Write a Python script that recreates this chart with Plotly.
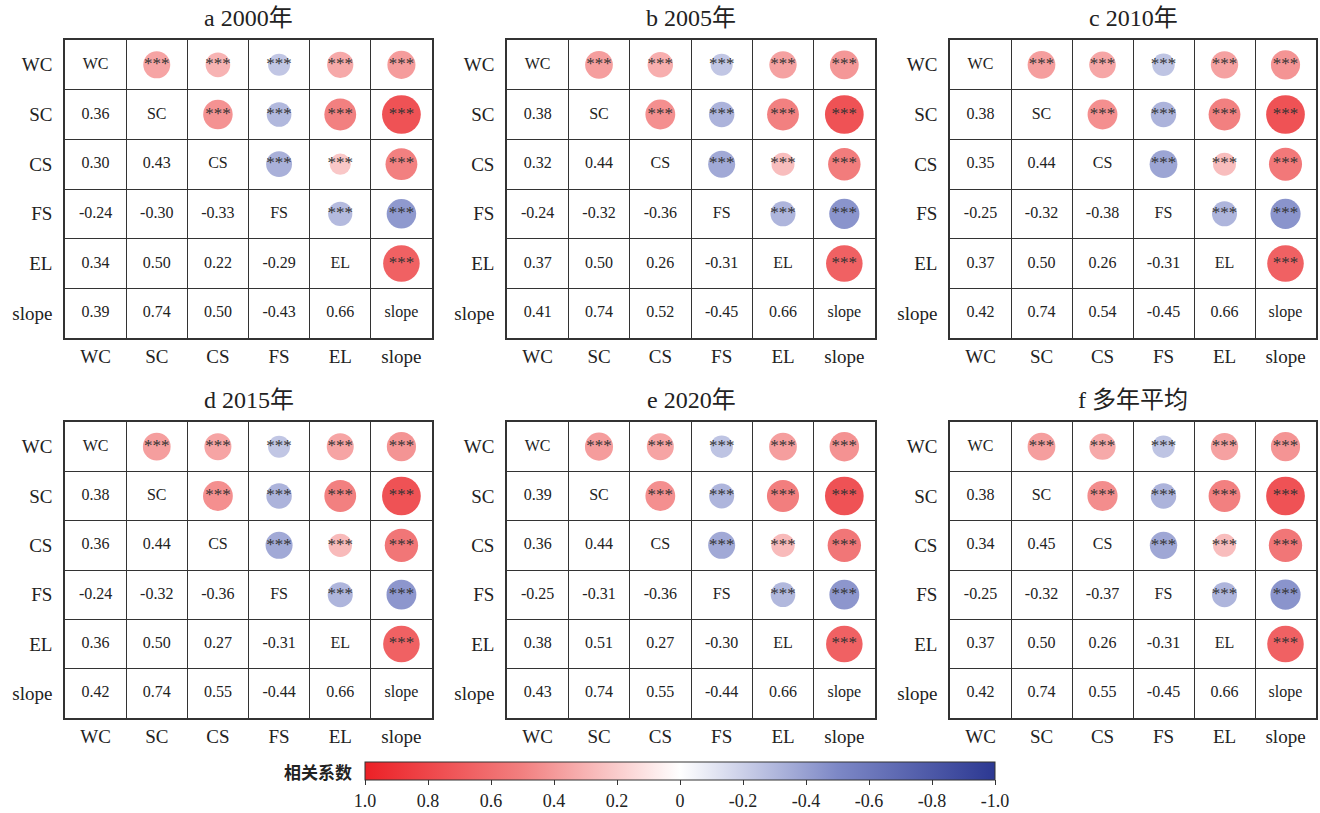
import math
import plotly.graph_objects as go

variables = ["WC", "SC", "CS", "FS", "EL", "slope"]
panel_titles = ["a\u00a02000年", "b\u00a02005年", "c\u00a02010年", "d\u00a02015年", "e\u00a02020年", "f\u00a0多年平均"]

# lower-triangle correlation coefficients (row i, columns 0..i-1)
r_2000 = [[0.36], [0.30, 0.43], [-0.24, -0.30, -0.33], [0.34, 0.50, 0.22, -0.29], [0.39, 0.74, 0.50, -0.43, 0.66]]
r_2005 = [[0.38], [0.32, 0.44], [-0.24, -0.32, -0.36], [0.37, 0.50, 0.26, -0.31], [0.41, 0.74, 0.52, -0.45, 0.66]]
r_2010 = [[0.38], [0.35, 0.44], [-0.25, -0.32, -0.38], [0.37, 0.50, 0.26, -0.31], [0.42, 0.74, 0.54, -0.45, 0.66]]
r_2015 = [[0.38], [0.36, 0.44], [-0.24, -0.32, -0.36], [0.36, 0.50, 0.27, -0.31], [0.42, 0.74, 0.55, -0.44, 0.66]]
r_2020 = [[0.39], [0.36, 0.44], [-0.25, -0.31, -0.36], [0.38, 0.51, 0.27, -0.30], [0.43, 0.74, 0.55, -0.44, 0.66]]
r_mean = [[0.38], [0.34, 0.45], [-0.25, -0.32, -0.37], [0.37, 0.50, 0.26, -0.31], [0.42, 0.74, 0.55, -0.45, 0.66]]
panels = [r_2000, r_2005, r_2010, r_2015, r_2020, r_mean]
sig_label = "***"

cbar_tickvals = [1.0, 0.8, 0.6, 0.4, 0.2, 0.0, -0.2, -0.4, -0.6, -0.8, -1.0]
cbar_ticktext = ["1.0", "0.8", "0.6", "0.4", "0.2", "0", "-0.2", "-0.4", "-0.6", "-0.8", "-1.0"]
cbar_title = "相关系数"

W, H = 1320, 813
x_px = [(65, 432), (507, 875), (950, 1316)]
y_px = [(40, 338), (422, 718)]
title_y_px = [18, 400]

SERIF = "Liberation Serif, Times New Roman, Noto Sans CJK SC, serif"
colorscale = [
    [0.0, "rgb(236,32,38)"],
    [0.25, "rgb(242,128,128)"],
    [0.5, "rgb(255,255,255)"],
    [0.75, "rgb(125,136,198)"],
    [1.0, "rgb(44,56,146)"],
]

fig = go.Figure()
layout = {}
annotations = []

n = len(variables)
for k, low in enumerate(panels):
    row, col = divmod(k, 3)
    suf = "" if k == 0 else str(k + 1)
    xa, ya = "x" + suf, "y" + suf
    M = [[1.0] * n for _ in range(n)]
    for i in range(1, n):
        for j in range(i):
            M[i][j] = low[i - 1][j]
            M[j][i] = low[i - 1][j]

    lx, ly, lt = [], [], []
    ux, uy, us, uc = [], [], [], []
    for i in range(n):
        for j in range(n):
            if i > j:
                lx.append(j + 1); ly.append(i + 1); lt.append(f"{M[i][j]:.2f}")
            elif j > i:
                ux.append(j + 1); uy.append(i + 1)
                us.append(45 * math.sqrt(abs(M[i][j])))
                uc.append(-M[i][j])
    fig.add_trace(go.Scatter(
        x=lx, y=ly, text=lt, mode="text", xaxis=xa, yaxis=ya,
        textfont=dict(family=SERIF, size=16, color="#222"), showlegend=False, hoverinfo="skip"))
    fig.add_trace(go.Scatter(
        x=list(range(1, n + 1)), y=list(range(1, n + 1)), text=variables, mode="text",
        xaxis=xa, yaxis=ya, textfont=dict(family=SERIF, size=16, color="#222"),
        showlegend=False, hoverinfo="skip"))
    fig.add_trace(go.Scatter(
        x=ux, y=uy, mode="markers+text", text=[sig_label] * len(ux),
        textposition="middle center", xaxis=xa, yaxis=ya,
        marker=dict(size=us, color=uc, coloraxis="coloraxis", line=dict(width=0), opacity=1),
        textfont=dict(family=SERIF, size=17, color="#333"), showlegend=False, hoverinfo="skip"))

    x0, x1 = x_px[col]
    y0, y1 = y_px[row]
    axis_common = dict(
        tickvals=list(range(1, n + 1)), ticktext=variables,
        tickfont=dict(family=SERIF, size=19, color="#222"),
        showgrid=False, zeroline=False, showline=True, mirror=True,
        linecolor="#333", linewidth=1.5, ticks="",
        minor=dict(tickvals=[1.5, 2.5, 3.5, 4.5, 5.5], showgrid=True,
                   gridcolor="#333", gridwidth=1, ticks=""),
        fixedrange=True, automargin=False,
    )
    layout["xaxis" + suf] = dict(axis_common, domain=[x0 / W, x1 / W], range=[0.5, 6.5],
                                 anchor=ya, side="bottom", ticklabelstandoff=0)
    layout["yaxis" + suf] = dict(axis_common, domain=[1 - y1 / H, 1 - y0 / H], range=[6.5, 0.5],
                                 anchor=xa, ticklabelstandoff=7)
    annotations.append(dict(
        text=panel_titles[k], x=(x0 + x1) / 2 / W, y=1 - title_y_px[row] / H,
        xref="paper", yref="paper", xanchor="center", yanchor="middle", showarrow=False,
        font=dict(family=SERIF, size=24, color="#222")))

annotations.append(dict(
    text=f"<b>{cbar_title}</b>", x=354 / W, y=1 - 771 / H, xref="paper", yref="paper",
    xanchor="right", yanchor="middle", showarrow=False,
    font=dict(family="Noto Sans CJK SC, sans-serif", size=17, color="#222")))

fig.update_layout(
    width=W, height=H, margin=dict(l=0, r=0, t=0, b=0, autoexpand=False),
    plot_bgcolor="white", paper_bgcolor="white",
    annotations=annotations,
    coloraxis=dict(
        colorscale=colorscale, cmin=-1, cmax=1,
        colorbar=dict(
            orientation="h", xref="container", yref="container",
            x=680 / W, xanchor="center", y=1 - 762 / H, yanchor="top",
            len=630 / W, lenmode="fraction", thickness=18, xpad=0, ypad=0,
            outlinecolor="#333", outlinewidth=1,
            tickmode="array", tickvals=[-v for v in cbar_tickvals], ticktext=cbar_ticktext,
            ticks="outside", ticklen=5, tickcolor="#333",
            tickfont=dict(family=SERIF, size=18, color="#222"),
        ),
    ),
    **layout,
)

fig.write_html(
    "out.html",
    config={"displayModeBar": False},
    post_script="document.body.style.margin='0px';document.body.style.overflow='hidden';",
)
